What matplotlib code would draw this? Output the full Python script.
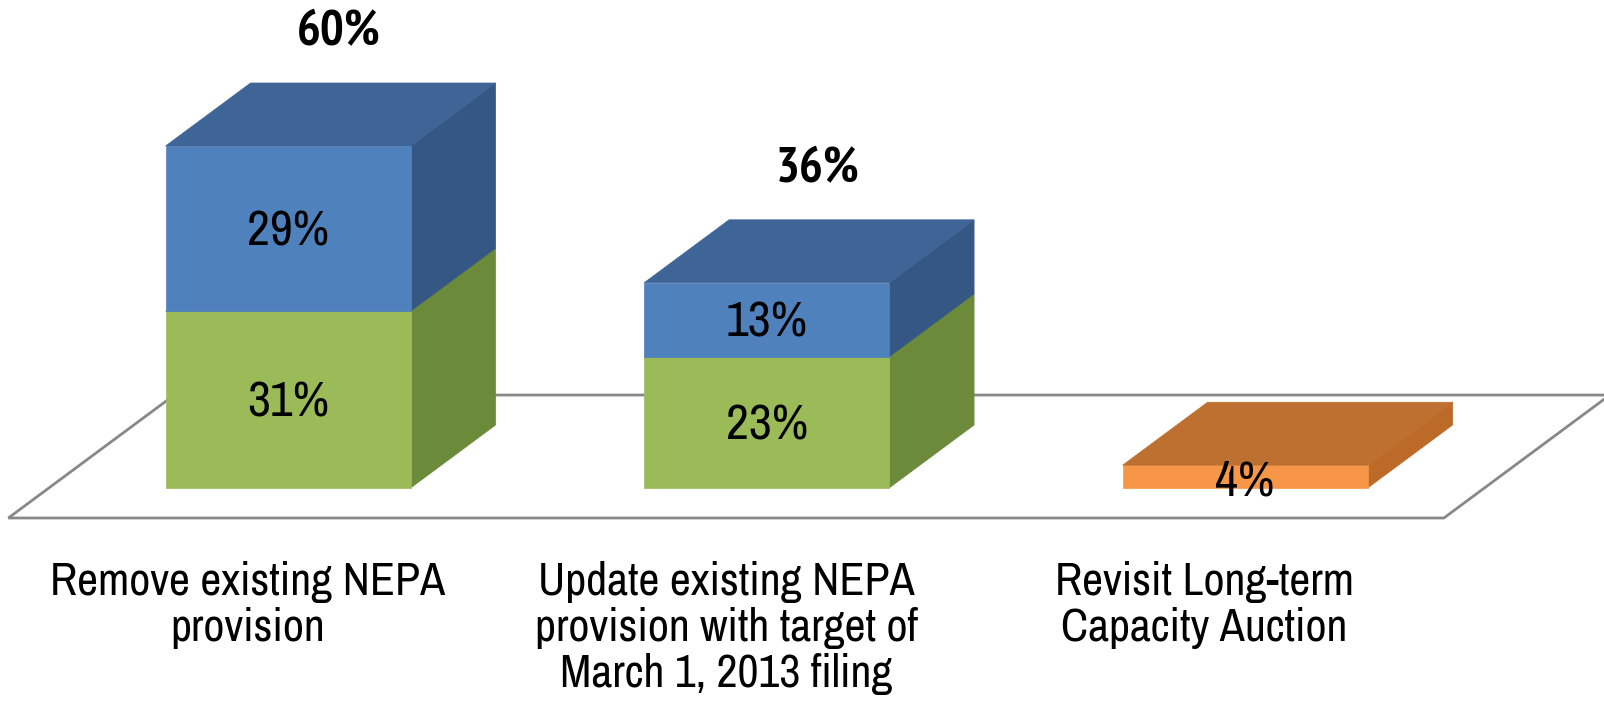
import matplotlib
matplotlib.use("Agg")
import matplotlib.pyplot as plt
from matplotlib.patches import Polygon
import logging
logging.getLogger("matplotlib.font_manager").setLevel(logging.ERROR)

categories = ["Remove existing NEPA\nprovision",
              "Update existing NEPA\nprovision with target of\nMarch 1, 2013 filing",
              "Revisit Long-term\nCapacity Auction"]
green_vals = [31, 23, 0]
blue_vals = [29, 13, 0]
orange_vals = [0, 0, 4]
totals = ["60%", "36%", None]

series = [
    (green_vals, ("#9BBB59", "#6C8B3A", "#7E9E45")),
    (blue_vals, ("#4F81BD", "#355783", "#3E6596")),
    (orange_vals, ("#F79646", "#BC6A28", "#BE7030")),
]

FONT = ["Liberation Sans Narrow", "Archivo Narrow", "PT Sans Narrow", "Liberation Sans", "DejaVu Sans"]
FONT_BOLD = ["Liberation Sans Narrow", "PT Sans Narrow", "Archivo Narrow", "Liberation Sans", "DejaVu Sans"]

W, H = 1604, 713
fig = plt.figure(figsize=(W / 100, H / 100), dpi=100)
ax = fig.add_axes([0, 0, 1, 1])
ax.set_xlim(-0.602, 2.750)
ax.set_ylim(-39.47, 85.61)
ax.axis("off")

bw = 0.512          # bar width (category units)
dx, dy = 0.1776, 11.05   # depth projection
f = 0.476           # floor margin in depth units

# floor
n = len(categories)
fl = [(-0.5 - f * dx, -f * dy), (n - 0.5 - f * dx, -f * dy),
      (n - 0.5 + (1 + f) * dx, (1 + f) * dy), (-0.5 + (1 + f) * dx, (1 + f) * dy)]
ax.add_patch(Polygon(fl, closed=True, facecolor="white", edgecolor="#888888", lw=2, zorder=1))

for i in range(n):
    base = 0
    x0, x1 = i - bw / 2, i + bw / 2
    for vals, (cf, cs, ct) in series:
        v = vals[i]
        if v <= 0:
            continue
        top = base + v
        side = [(x1, base), (x1 + dx, base + dy), (x1 + dx, top + dy), (x1, top)]
        front = [(x0, base), (x1, base), (x1, top), (x0, top)]
        topf = [(x0, top), (x1, top), (x1 + dx, top + dy), (x0 + dx, top + dy)]
        ax.add_patch(Polygon(side, closed=True, facecolor=cs, edgecolor=cs, lw=0.5, zorder=2))
        ax.add_patch(Polygon(front, closed=True, facecolor=cf, edgecolor=cf, lw=0.5, zorder=2))
        ax.add_patch(Polygon(topf, closed=True, facecolor=ct, edgecolor=ct, lw=0.5, zorder=2))
        ax.text(i, (base + top) / 2 + (-0.9 if v < 6 else -0.6), f"{v}%", ha="center", va="center",
                fontsize=36, family=FONT, color="black", zorder=5)
        base = top
    if totals[i]:
        ax.text(i + 0.6 * dx, base + dy + 8.8, totals[i], ha="center", va="center",
                fontsize=36, fontweight="bold", family=FONT_BOLD, color="black", zorder=5)
    ax.text(i - f * dx, -f * dy - 7.6, categories[i], ha="center", va="top",
            fontsize=33, family=FONT, color="black", linespacing=1.12, zorder=5)

fig.savefig("out.png", dpi=100, facecolor="white")
